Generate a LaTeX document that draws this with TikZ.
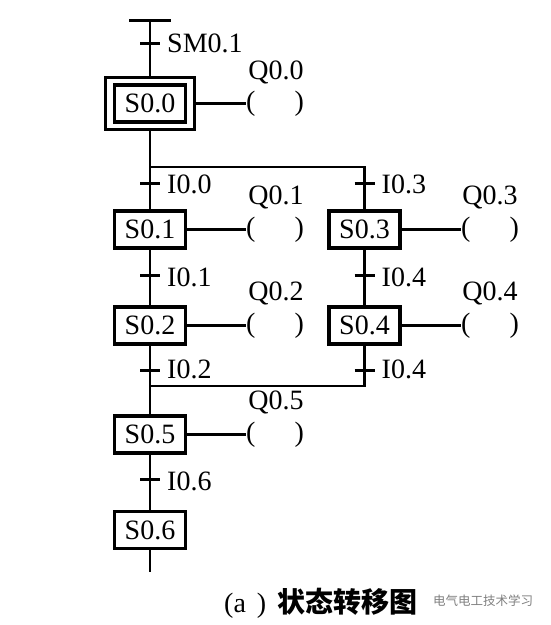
\documentclass[tikz,border=0pt]{standalone}
\usepackage{fontspec}
\setmainfont{Liberation Serif}
\newfontfamily\cjk{Noto Sans CJK SC}
\begin{document}
\begin{tikzpicture}[x=1pt,y=-1pt,
  lbl/.style={font=\fontsize{28}{30}\selectfont, inner sep=0pt, text depth=0pt},
  coil/.style={font=\fontsize{28}{30}\selectfont, inner sep=0pt, anchor=west},
  stepbox/.style={draw, line width=3.4pt, minimum width=71pt, minimum height=37pt, inner sep=0pt, font=\fontsize{28}{30}\selectfont},
  wire/.style={line width=2.2pt},
  tickline/.style={line width=3pt}]
\useasboundingbox[fill=white] (0,0) rectangle (551,625);

% steps
\node[stepbox] (s00) at (150,103.5) {S0.0};
\node[draw, line width=3.8pt, minimum width=89pt, minimum height=52pt] (s00o) at (150,103.5) {};
\node[stepbox] (s01) at (150,229.5) {S0.1};
\node[stepbox] (s03) at (364.5,229.5) {S0.3};
\node[stepbox] (s02) at (150,325.5) {S0.2};
\node[stepbox] (s04) at (364.5,325.5) {S0.4};
\node[stepbox] (s05) at (150,434.5) {S0.5};
\node[stepbox] (s06) at (150,530) {S0.6};

% coordinates
\coordinate (top) at (150,20);
\coordinate (brL) at (150,167);
\coordinate (brR) at (364.5,167);
\coordinate (mgL) at (150,386);
\coordinate (mgR) at (364.5,386);
\coordinate (bot) at (150,572);

% vertical links
\draw[tickline] ([xshift=-21pt]top) -- ([xshift=21pt]top);
\draw[wire] (top) -- (s00o.north);
\draw[wire] (s00o.south) -- (brL) -- (s01.north);
\draw[wire] (brL) -- (brR) -- (s03.north);
\draw[wire] (s01.south) -- (s02.north);
\draw[wire] (s03.south) -- (s04.north);
\draw[wire] (s02.south) -- (s05.north);
\draw[wire] (s04.south) -- (mgR) -- (mgL);
\draw[wire] (s05.south) -- (s06.north);
\draw[wire] (s06.south) -- (bot);

% transitions
\coordinate (t0) at (150,43);
\coordinate (t1) at (150,183);
\coordinate (t2) at (364.5,183);
\coordinate (t3) at (150,275);
\coordinate (t4) at (364.5,275);
\coordinate (t5) at (150,370);
\coordinate (t6) at (364.5,370);
\coordinate (t7) at (150,479);
\foreach \t in {t0,t1,t2,t3,t4,t5,t6,t7}
  \draw[tickline] ([xshift=-10pt]\t) -- ([xshift=10pt]\t);

\node[lbl, anchor=west] (l0) at (167,43) {SM0.1};
\node[lbl, anchor=west] (l1) at (167,184) {I0.0};
\node[lbl, anchor=west] (l2) at (381.5,184) {I0.3};
\node[lbl, anchor=west] (l3) at (167,277) {I0.1};
\node[lbl, anchor=west] (l4) at (381.5,277) {I0.4};
\node[lbl, anchor=west] (l5) at (167,369) {I0.2};
\node[lbl, anchor=west] (l6) at (381.5,369) {I0.4};
\node[lbl, anchor=west] (l7) at (167,481) {I0.6};

% coils
\node[coil] (c00) at (246,103.5) {(\hspace{39pt})};
\node[coil] (c01) at (246,229.5) {(\hspace{39pt})};
\node[coil] (c03) at (461,229.5) {(\hspace{39pt})};
\node[coil] (c02) at (246,325.5) {(\hspace{39pt})};
\node[coil] (c04) at (461,325.5) {(\hspace{39pt})};
\node[coil] (c05) at (246,434.5) {(\hspace{39pt})};
\draw[wire] (s00o.east) -- (c00.west);
\draw[wire] (s01.east) -- (c01.west);
\draw[wire] (s03.east) -- (c03.west);
\draw[wire] (s02.east) -- (c02.west);
\draw[wire] (s04.east) -- (c04.west);
\draw[wire] (s05.east) -- (c05.west);

\node[lbl] (q00) at (276,70) {Q0.0};
\node[lbl] (q01) at (276,195) {Q0.1};
\node[lbl] (q03) at (490,195) {Q0.3};
\node[lbl] (q02) at (276,291) {Q0.2};
\node[lbl] (q04) at (490,291) {Q0.4};
\node[lbl] (q05) at (276,400) {Q0.5};

% caption
\node[inner sep=0pt, anchor=west] (cap) at (224,603)
  {\fontsize{28}{30}\selectfont (a\hspace{11pt})\hspace{11pt}{\cjk\bfseries 状态转移图}};
\node[inner sep=0pt, anchor=west, text=black!50] (wm) at (433,601)
  {\fontsize{12.5}{15}\selectfont\cjk 电气电工技术学习};
\end{tikzpicture}
\end{document}
